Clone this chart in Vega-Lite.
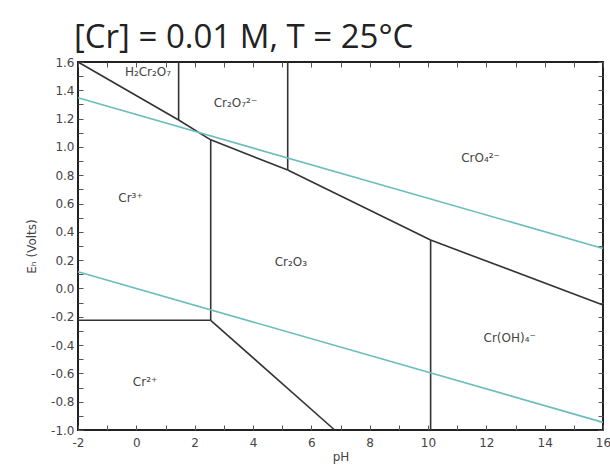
{
  "$schema": "https://vega.github.io/schema/vega-lite/v6.json",
  "autosize": {"type": "none"},
  "padding": {"left": 78, "top": 62, "right": 7, "bottom": 41},
  "width": 525,
  "height": 368,
  "background": "white",
  "title": {
    "text": "[Cr] = 0.01 M, T = 25°C",
    "anchor": "start",
    "frame": "group",
    "font": "Open Sans",
    "fontSize": 33,
    "fontWeight": "normal",
    "color": "#222",
    "offset": 1,
    "dx": -4
  },
  "config": {
    "view": {"stroke": "#222", "strokeWidth": 2},
    "axis": {
      "labelFont": "DejaVu Sans",
      "labelFontSize": 12,
      "labelColor": "#444",
      "titleFont": "DejaVu Sans",
      "titleFontSize": 12,
      "titleColor": "#444",
      "titleFontWeight": "normal",
      "grid": false,
      "domain": false,
      "tickColor": "#555",
      "labelOverlap": false,
      "labelFlush": false,
      "tickCount": 40
    }
  },
  "resolve": {"axis": {"x": "independent", "y": "independent"}},
  "datasets": {
    "lines": [
      {"x": -2, "y": 1.6, "x2": 1.45, "y2": 1.19, "kind": "b"},
      {"x": 1.45, "y": 1.19, "x2": 2.55, "y2": 1.05, "kind": "b"},
      {"x": 2.55, "y": 1.05, "x2": 5.19, "y2": 0.837, "kind": "b"},
      {"x": 5.19, "y": 0.837, "x2": 10.09, "y2": 0.342, "kind": "b"},
      {"x": 10.09, "y": 0.342, "x2": 16, "y2": -0.117, "kind": "b"},
      {"x": 1.45, "y": 1.6, "x2": 1.45, "y2": 1.19, "kind": "b"},
      {"x": 5.19, "y": 1.6, "x2": 5.19, "y2": 0.837, "kind": "b"},
      {"x": 2.55, "y": 1.05, "x2": 2.55, "y2": -0.225, "kind": "b"},
      {"x": -2, "y": -0.225, "x2": 2.55, "y2": -0.225, "kind": "b"},
      {"x": 2.55, "y": -0.225, "x2": 6.8, "y2": -1.0, "kind": "b"},
      {"x": 10.09, "y": 0.342, "x2": 10.09, "y2": -1.0, "kind": "b"},
      {"x": -2, "y": 1.347, "x2": 16, "y2": 0.283, "kind": "w"},
      {"x": -2, "y": 0.118, "x2": 16, "y2": -0.946, "kind": "w"}
    ],
    "labels": [
      {"x": 0.4, "y": 1.53, "t": "H₂Cr₂O₇"},
      {"x": 3.4, "y": 1.31, "t": "Cr₂O₇²⁻"},
      {"x": 11.8, "y": 0.92, "t": "CrO₄²⁻"},
      {"x": -0.2, "y": 0.64, "t": "Cr³⁺"},
      {"x": 5.3, "y": 0.19, "t": "Cr₂O₃"},
      {"x": 12.8, "y": -0.35, "t": "Cr(OH)₄⁻"},
      {"x": 0.3, "y": -0.66, "t": "Cr²⁺"}
    ]
  },
  "layer": [
    {
      "data": {"name": "lines"},
      "mark": {"type": "rule", "strokeWidth": 1.6},
      "encoding": {
        "x": {
          "field": "x", "type": "quantitative",
          "scale": {"domain": [-2, 16], "nice": false, "zero": false},
          "axis": {
            "orient": "bottom",
            "title": "pH",
            "values": [-2,-1,0,1,2,3,4,5,6,7,8,9,10,11,12,13,14,15,16],
            "labelExpr": "datum.value % 2 == 0 ? replace(format(datum.value, 'd'), '−', '-') : ''",
            "tickSize": -5,
            "labelPadding": 12,
            "titlePadding": 3
          }
        },
        "y": {
          "field": "y", "type": "quantitative",
          "scale": {"domain": [-1, 1.6], "nice": false, "zero": false},
          "axis": {
            "orient": "left",
            "title": "Eₕ (Volts)",
            "values": [-1,-0.9,-0.8,-0.7,-0.6,-0.5,-0.4,-0.3,-0.2,-0.1,0,0.1,0.2,0.3,0.4,0.5,0.6,0.7,0.8,0.9,1,1.1,1.2,1.3,1.4,1.5,1.6],
            "labelExpr": "abs(round(datum.value*10)) % 2 == 0 ? replace(format(datum.value, '.1f'), '−', '-') : ''",
            "tickSize": -5,
            "labelPadding": 9,
            "titlePadding": 12
          }
        },
        "x2": {"field": "x2"},
        "y2": {"field": "y2"},
        "color": {
          "field": "kind", "type": "nominal",
          "scale": {"domain": ["b", "w"], "range": ["#333333", "#6bbcbc"]},
          "legend": null
        }
      }
    },
    {
      "data": {"name": "labels"},
      "mark": {"type": "text", "font": "DejaVu Sans", "fontSize": 12, "color": "#444"},
      "encoding": {
        "x": {
          "field": "x", "type": "quantitative",
          "axis": {
            "orient": "top",
            "title": null,
            "labels": false,
            "values": [-2,-1,0,1,2,3,4,5,6,7,8,9,10,11,12,13,14,15,16],
            "tickSize": -5
          }
        },
        "y": {
          "field": "y", "type": "quantitative",
          "axis": {
            "orient": "right",
            "title": null,
            "labels": false,
            "values": [-1,-0.9,-0.8,-0.7,-0.6,-0.5,-0.4,-0.3,-0.2,-0.1,0,0.1,0.2,0.3,0.4,0.5,0.6,0.7,0.8,0.9,1,1.1,1.2,1.3,1.4,1.5,1.6],
            "tickSize": -5
          }
        },
        "text": {"field": "t"}
      }
    }
  ]
}
